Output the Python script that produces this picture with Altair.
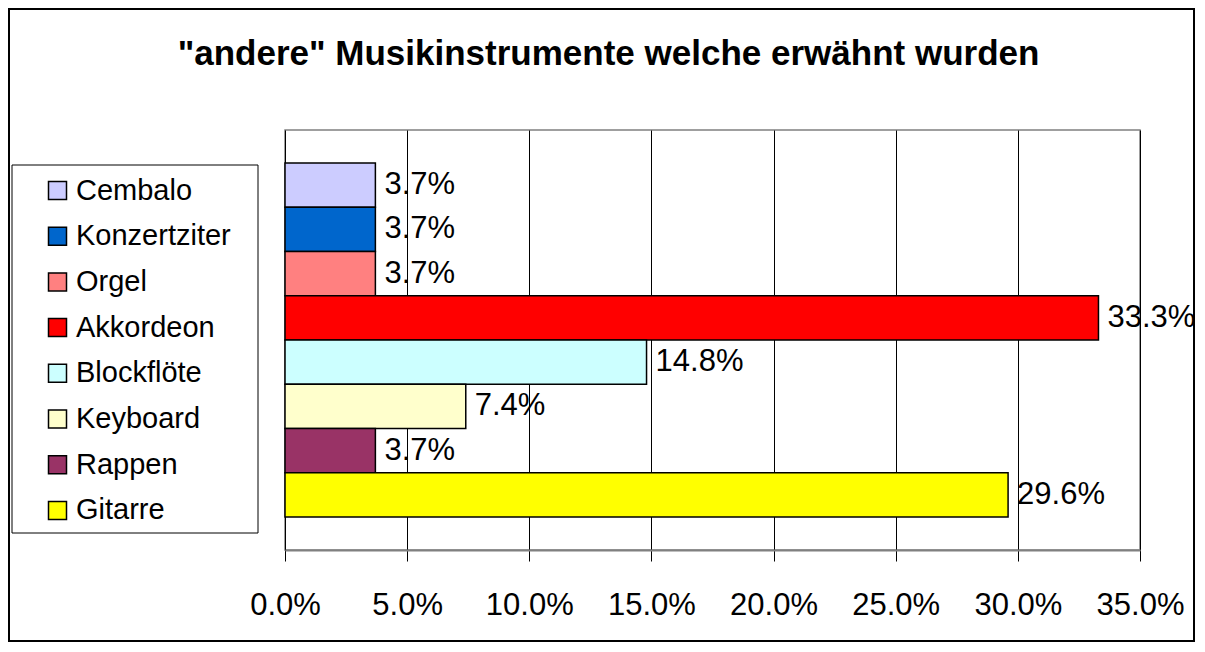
import altair as alt
import pandas as pd

instruments = ["Cembalo", "Konzertziter", "Orgel", "Akkordeon", "Blockflöte", "Keyboard", "Rappen", "Gitarre"]
shares = [3.7, 3.7, 3.7, 33.3, 14.8, 7.4, 3.7, 29.6]
colors = ["#CCCCFF", "#0066CC", "#FF8080", "#FF0000", "#CCFFFF", "#FFFFCC", "#993366", "#FFFF00"]
x_ticks = [0, 5, 10, 15, 20, 25, 30, 35]
title_text = '"andere" Musikinstrumente welche erwähnt wurden'

df = pd.DataFrame({
    "instrument": instruments,
    "share": shares,
    "label": [f"{v:.1f}%" for v in shares],
})

W, H = 855, 420
FONT = "Liberation Sans"

x_enc = alt.X(
    "share:Q",
    scale=alt.Scale(domain=[0, 35], nice=False, zero=True),
    axis=alt.Axis(
        values=x_ticks, title=None,
        labelExpr="format(datum.value, '.1f') + '%'",
        grid=True, gridColor="#000000", gridWidth=1, gridOpacity=1,
        domainColor="#808080", domainWidth=2,
        tickColor="#000000", tickSize=11, tickWidth=1,
        labelFontSize=31, labelFont=FONT, labelColor="#000000",
        labelPadding=29, labelFlush=False, labelOverlap=False,
    ),
)
y_enc = alt.Y(
    "instrument:N", sort=instruments,
    scale=alt.Scale(paddingInner=0, paddingOuter=0.746),
    axis=None,
)

bars = alt.Chart(df).mark_bar(stroke="#000000", strokeWidth=1.5, opacity=1).encode(
    x=x_enc,
    y=y_enc,
    color=alt.Color(
        "instrument:N",
        scale=alt.Scale(domain=instruments, range=colors),
        legend=alt.Legend(
            title=None, orient="none", legendX=-242, legendY=46,
            symbolType="square", symbolSize=324, symbolStrokeColor="#000000",
            symbolStrokeWidth=1.5, symbolOpacity=1,
            labelFont=FONT, labelFontSize=29, labelColor="#000000",
            labelOffset=4, rowPadding=15.7, labelLimit=400, padding=0,
        ),
    ),
)

labels = alt.Chart(df).mark_text(
    align="left", baseline="middle", dx=9, fontSize=31, font=FONT, color="#000000"
).encode(x="share:Q", y=alt.Y("instrument:N", sort=instruments), text="label:N")

one = pd.DataFrame({"t": [title_text]})

outer_border = alt.Chart(one).mark_rect(
    fill="white", fillOpacity=0, stroke="#000000", strokeWidth=2
).encode(x=alt.value(-276), x2=alt.value(909), y=alt.value(-121), y2=alt.value(511))

legend_box = alt.Chart(one).mark_rect(
    fill="white", stroke="#000000", strokeWidth=1
).encode(x=alt.value(-273), x2=alt.value(-27), y=alt.value(35), y2=alt.value(403))

title = alt.Chart(one).mark_text(
    align="center", baseline="alphabetic", fontSize=35, fontWeight="bold", font=FONT, color="#000000"
).encode(x=alt.value(323.5), y=alt.value(-65), text="t:N")

chart = alt.layer(outer_border, legend_box, bars, labels, title).properties(
    width=W, height=H,
    autosize="none",
    padding={"left": 277, "top": 122, "right": 55, "bottom": 92},
    background="white",
).configure_view(stroke="#808080", strokeWidth=1.5)

chart.save("out.html", embed_options={"renderer": "svg", "actions": False})
